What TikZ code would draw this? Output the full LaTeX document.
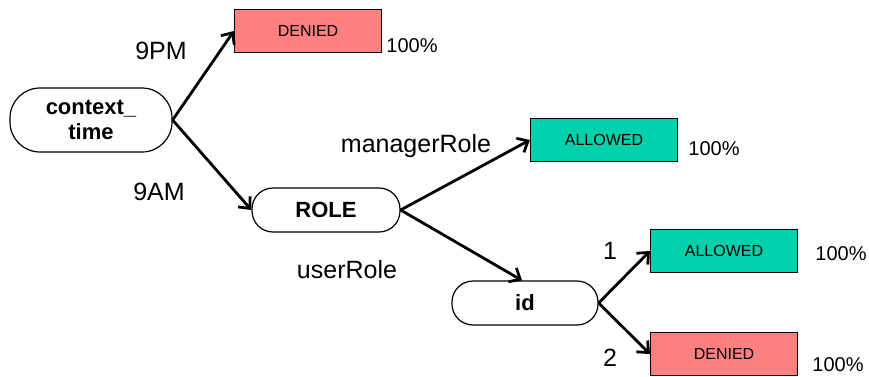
\documentclass[tikz,border=0pt]{standalone}
\usepackage{fontspec}
\setmainfont{Liberation Sans}
\usetikzlibrary{arrows.meta}
\definecolor{denyred}{RGB}{255,128,128}
\definecolor{allowgreen}{RGB}{0,209,170}
\begin{document}
\begin{tikzpicture}[x=1pt,y=-1pt,
  decision/.style={draw=black,line width=1.2pt,fill=white,rounded corners=21pt,
    minimum width=148pt,minimum height=44pt,inner sep=0pt,align=center,
    font=\fontsize{22}{26}\selectfont\bfseries},
  outcome/.style={draw=black,line width=1.2pt,minimum width=147pt,minimum height=43pt,
    inner sep=0pt,font=\fontsize{16}{19}\selectfont},
  deny/.style={outcome,fill=denyred},
  allow/.style={outcome,fill=allowgreen},
  lbl/.style={anchor=base,inner sep=0pt,font=\fontsize{25}{30}\selectfont},
  pct/.style={anchor=base,inner sep=0pt,font=\fontsize{20}{24}\selectfont},
  edge/.style={line width=2.8pt,-{Straight Barb[length=9pt,width=16pt,line width=2.8pt]}}]
\useasboundingbox (0,0) rectangle (869,376);
\node[decision,minimum width=162pt,minimum height=64pt,rounded corners=30pt] (ct) at (91,120) {context\_\\[-1pt]time};
\node[deny] (d1) at (308,31) {DENIED};
\node[decision] (role) at (326,210) {ROLE};
\node[allow] (a1) at (604,140) {ALLOWED};
\node[decision,minimum width=146pt] (id) at (525,303) {id};
\node[allow] (a2) at (724,251) {ALLOWED};
\node[deny] (d2) at (724,354) {DENIED};

\draw[edge] (ct.east) -- (d1.west);
\draw[edge] (ct.east) -- (role.west);
\draw[edge] (role.east) -- (a1.west);
\draw[edge] (role.east) -- ([xshift=-3pt]id.north);
\draw[edge] (id.east) -- (a2.west);
\draw[edge] (id.east) -- (d2.west);

\node[lbl] (l9pm) at (161,59) {9PM};
\node[lbl] (l9am) at (159,200) {9AM};
\node[lbl] (lmr) at (416,152) {managerRole};
\node[lbl] (lur) at (347,278) {userRole};
\node[lbl] (l1) at (610,259) {1};
\node[lbl] (l2) at (610,366) {2};

\node[pct] (p1) at (412,52) {100\%};
\node[pct] (p2) at (714,155) {100\%};
\node[pct] (p3) at (841,260) {100\%};
\node[pct] (p4) at (838,371) {100\%};
\end{tikzpicture}
\end{document}
